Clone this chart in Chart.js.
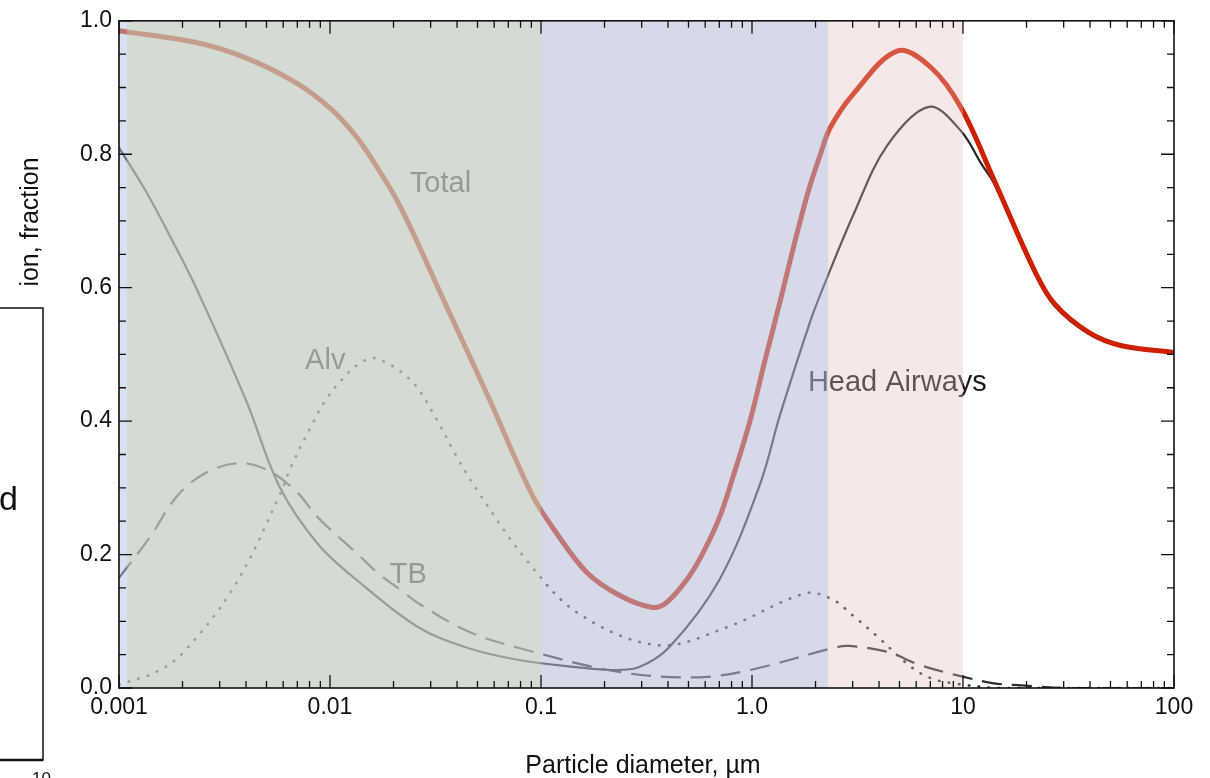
<!DOCTYPE html>
<html>
<head>
<meta charset="utf-8">
<script src="https://cdn.jsdelivr.net/npm/chart.js@4.4.1/dist/chart.umd.min.js"></script>
<style>
  html, body { margin: 0; padding: 0; background: #fff; }
  #wrap { width: 1210px; height: 778px; position: relative; }
</style>
</head>
<body>
<div id="wrap"><canvas id="deposicao"></canvas></div>
<script>
// diametro (um) e fracao depositada
const totalD = [0.001, 0.00235, 0.0041, 0.007, 0.0101, 0.0132, 0.016, 0.0215, 0.0345, 0.0565, 0.0906, 0.115, 0.164, 0.235, 0.334, 0.39, 0.49, 0.58, 0.70, 0.81, 0.978, 1.15, 1.36, 1.6, 1.85, 2.11, 2.35, 3.03, 4.9, 7.05, 9.78, 14.1, 21.8, 27.1, 39.4, 56.5, 100];
const totalF = [0.985, 0.967, 0.943, 0.906, 0.868, 0.828, 0.79, 0.722, 0.582, 0.435, 0.29, 0.238, 0.174, 0.139, 0.121, 0.127, 0.162, 0.200, 0.255, 0.315, 0.40, 0.49, 0.58, 0.67, 0.745, 0.80, 0.84, 0.891, 0.955, 0.93, 0.87, 0.76, 0.626, 0.576, 0.533, 0.513, 0.503];

const headD = [0.001, 0.00135, 0.0018, 0.00235, 0.004, 0.0058, 0.0088, 0.0136, 0.0262, 0.045, 0.0786, 0.15, 0.217, 0.29, 0.405, 0.70, 1.09, 1.36, 1.89, 2.11, 3.03, 4.37, 6.9, 9.78, 12.2, 14.1, 21.8, 27.1, 39.4, 56.5, 100];
const headF = [0.81, 0.743, 0.669, 0.596, 0.431, 0.30, 0.215, 0.16, 0.091, 0.06, 0.042, 0.031, 0.027, 0.031, 0.061, 0.162, 0.305, 0.41, 0.55, 0.59, 0.71, 0.813, 0.871, 0.835, 0.786, 0.755, 0.622, 0.573, 0.531, 0.512, 0.502];

const tbD = [0.001, 0.0014, 0.0019, 0.0026, 0.0037, 0.0051, 0.007, 0.0088, 0.0136, 0.0169, 0.0227, 0.0262, 0.045, 0.0786, 0.235, 0.55, 0.98, 2.5, 2.9, 4.4, 6.3, 9.4, 14, 19, 30, 100];
const tbF = [0.165, 0.226, 0.289, 0.323, 0.337, 0.326, 0.293, 0.255, 0.20, 0.172, 0.142, 0.127, 0.085, 0.060, 0.024, 0.016, 0.027, 0.061, 0.063, 0.054, 0.034, 0.019, 0.007, 0.004, 0.0, 0.0];

const alvD = [0.001, 0.0015, 0.002, 0.0035, 0.0058, 0.0065, 0.0081, 0.0095, 0.0113, 0.0136, 0.0165, 0.0242, 0.0316, 0.039, 0.0509, 0.0852, 0.15, 0.36, 0.76, 1.8, 2.4, 3.0, 3.9, 5.6, 7.0, 9.0, 15, 100];
const alvF = [0.005, 0.024, 0.052, 0.151, 0.29, 0.33, 0.391, 0.431, 0.461, 0.485, 0.494, 0.461, 0.406, 0.352, 0.292, 0.192, 0.112, 0.064, 0.091, 0.142, 0.133, 0.109, 0.078, 0.033, 0.015, 0.007, 0, 0];

const xTicks = [0.001, 0.01, 0.1, 1, 10, 100];
const xTickLabels = ['0.001', '0.01', '0.1', '1.0', '10', '100'];

// faixas: [inicio, fim, cor]
const faixas = [
  [0.001, 0.00109, 'rgba(173,197,229,0.5)'],
  [0.00109, 0.1, 'rgba(194,205,194,0.72)'],
  [0.1, 2.3, 'rgba(180,187,214,0.56)'],
  [2.3, 10, 'rgba(232,190,190,0.35)']
];

// rotulos das curvas: [texto, diametro, fracao]
const rotulos = [
  ['Total', 0.0239, 0.743],
  ['Alv', 0.00762, 0.478],
  ['TB', 0.0192, 0.158],
  ['Head Airways', 1.84, 0.445]
];

const fonte = '"Liberation Sans", Arial, Helvetica, sans-serif';

function pares(xs, ys) {
  return xs.map((x, i) => ({ x: x, y: ys[i] }));
}

const desenhoExtra = {
  id: 'desenhoExtra',
  afterDatasetsDraw(chart) {
    const ctx = chart.ctx;
    const a = chart.chartArea;
    const sx = chart.scales.x;
    const sy = chart.scales.y;

    // rotulos (por baixo das faixas)
    ctx.save();
    ctx.fillStyle = '#1a1a1a';
    ctx.font = '29px ' + fonte;
    ctx.textBaseline = 'alphabetic';
    rotulos.forEach(r => {
      ctx.fillText(r[0], sx.getPixelForValue(r[1]), sy.getPixelForValue(r[2]));
    });
    ctx.restore();

    // faixas translucidas por cima das curvas
    ctx.save();
    faixas.forEach(f => {
      const x0 = sx.getPixelForValue(f[0]);
      const x1 = sx.getPixelForValue(f[1]);
      ctx.fillStyle = f[2];
      ctx.fillRect(x0, a.top, x1 - x0, a.bottom - a.top);
    });
    ctx.restore();

    // moldura e tracos para dentro
    ctx.save();
    ctx.strokeStyle = '#111';
    ctx.lineWidth = 1.6;
    ctx.strokeRect(a.left, a.top, a.right - a.left, a.bottom - a.top);
    ctx.lineWidth = 1.3;
    ctx.beginPath();
    for (let e = -3; e <= 2; e++) {
      for (let m = 1; m <= 9; m++) {
        const v = m * Math.pow(10, e);
        if (v > 100.0001) continue;
        const px = sx.getPixelForValue(v);
        const len = m === 1 ? 13 : 7;
        ctx.moveTo(px, a.bottom); ctx.lineTo(px, a.bottom - len);
        ctx.moveTo(px, a.top); ctx.lineTo(px, a.top + len);
      }
    }
    for (let i = 0; i <= 20; i++) {
      const v = i * 0.05;
      const py = sy.getPixelForValue(v);
      const len = i % 4 === 0 ? 13 : 7;
      ctx.moveTo(a.left, py); ctx.lineTo(a.left + len, py);
      ctx.moveTo(a.right, py); ctx.lineTo(a.right - len, py);
    }
    ctx.stroke();
    ctx.restore();
  },
  afterDraw(chart) {
    const ctx = chart.ctx;
    ctx.save();
    ctx.fillStyle = '#111';
    ctx.font = '25px ' + fonte;
    ctx.textAlign = 'center';
    ctx.textBaseline = 'middle';
    ctx.fillText('Particle diameter, µm', 643, 766);

    ctx.save();
    ctx.translate(31, 222);
    ctx.rotate(-Math.PI / 2);
    ctx.fillText('ion, fraction', 0, 0);
    ctx.restore();

    // pedaco da figura vizinha, cortado na margem esquerda
    ctx.strokeStyle = '#111';
    ctx.lineWidth = 1.5;
    ctx.strokeRect(-5, 308, 48, 452);
    ctx.lineWidth = 2.5;
    ctx.beginPath();
    ctx.moveTo(0, 760); ctx.lineTo(43, 760);
    ctx.stroke();
    ctx.textAlign = 'left';
    ctx.textBaseline = 'alphabetic';
    ctx.font = '34px ' + fonte;
    ctx.fillText('d', -1, 510);
    ctx.font = '17px ' + fonte;
    ctx.fillText('10', 32, 784);
    ctx.restore();
  }
};

window.onload = function() {
  const ctx = document.getElementById('deposicao').getContext('2d');
  new Chart(ctx, {
    type: 'line',
    data: {
      datasets: [
        {
          label: 'Total',
          data: pares(totalD, totalF),
          borderColor: '#cc2000',
          borderWidth: 5,
          tension: 0.35
        },
        {
          label: 'Head Airways',
          data: pares(headD, headF),
          borderColor: '#262626',
          borderWidth: 2.2,
          tension: 0.35
        },
        {
          label: 'TB',
          data: pares(tbD, tbF),
          borderColor: '#2e2e2e',
          borderWidth: 2.2,
          borderDash: [20, 10],
          tension: 0.35
        },
        {
          label: 'Alv',
          data: pares(alvD, alvF),
          borderColor: '#2e2e2e',
          borderWidth: 2.6,
          borderDash: [0.5, 9.5],
          borderCapStyle: 'round',
          tension: 0.35
        }
      ]
    },
    options: {
      responsive: true,
      maintainAspectRatio: false,
      animation: false,
      layout: { padding: { left: 0, top: 18, right: 36, bottom: 0 } },
      elements: { point: { radius: 0 } },
      plugins: { legend: { display: false }, tooltip: { enabled: false } },
      scales: {
        x: {
          type: 'logarithmic',
          min: 0.001,
          max: 100,
          grid: { display: false, drawTicks: false },
          border: { display: false },
          afterBuildTicks: s => { s.ticks = xTicks.map(v => ({ value: v })); },
          afterFit: s => { s.height = 90; },
          ticks: {
            color: '#111',
            padding: 6,
            maxRotation: 0,
            autoSkip: false,
            font: { family: fonte, size: 23 },
            callback: v => xTickLabels[xTicks.indexOf(v)]
          }
        },
        y: {
          min: 0,
          max: 1,
          grid: { display: false, drawTicks: false },
          border: { display: false },
          afterFit: s => { s.width = 119; },
          ticks: {
            color: '#111',
            padding: 7,
            stepSize: 0.2,
            font: { family: fonte, size: 23 },
            callback: v => v.toFixed(1)
          }
        }
      }
    },
    plugins: [desenhoExtra]
  });
};
</script>
</body>
</html>
